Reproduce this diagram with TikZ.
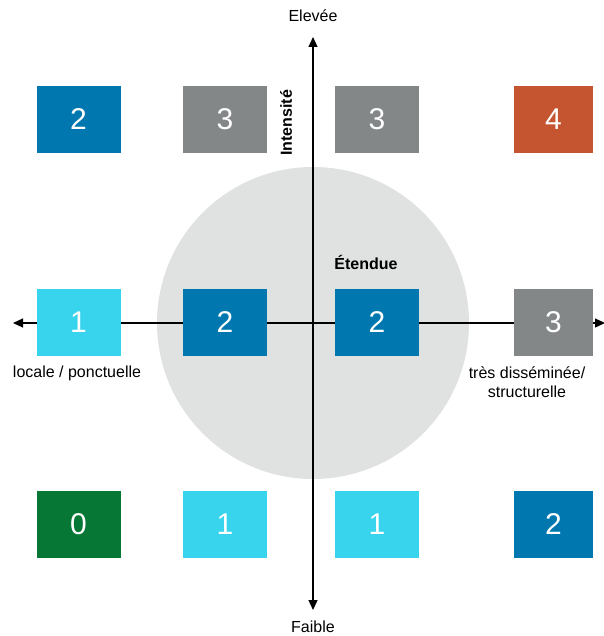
\documentclass[tikz,border=0pt]{standalone}
\usepackage{fontspec}
\setmainfont{Liberation Sans}
\usepackage{tikz}
\usetikzlibrary{arrows.meta,positioning}

\definecolor{deepblue}{HTML}{0077AE}
\definecolor{skyblue}{HTML}{38D4EE}
\definecolor{slategray}{HTML}{848788}
\definecolor{rust}{HTML}{C55530}
\definecolor{forest}{HTML}{067735}
\definecolor{zone}{HTML}{E0E1E1}

\begin{document}
\begin{tikzpicture}[x=1pt,y=-1pt,>={Triangle[length=10pt,width=9pt]},
                    axis/.style={->,line width=1.2pt,black},
                    cell/.style={minimum width=84pt,minimum height=67pt,inner sep=0pt,
                                 text=white,font=\fontsize{30}{30}\selectfont},
                    label/.style={font=\fontsize{16}{19}\selectfont,align=center,inner sep=0pt},
                    title/.style={font=\fontsize{16}{19}\selectfont\bfseries,inner sep=0pt}]
  \useasboundingbox (0,0) rectangle (603,636);

  \fill[zone] (313,323) circle (156pt);

  \coordinate (origin) at (313,323);
  \coordinate (top) at (313,37);
  \coordinate (bottom) at (313,610);
  \coordinate (left) at (13,323);
  \coordinate (right) at (605,323);

  \draw[axis] (origin) -- (top);
  \draw[axis] (origin) -- (bottom);
  \draw[axis] (origin) -- (left);
  \draw[axis] (origin) -- (right);

  % top row
  \node[cell,fill=deepblue] (a1) at (78.5,119.5) {2};
  \node[cell,fill=slategray] (a2) at (225,119.5) {3};
  \node[cell,fill=slategray] (a3) at (377,119.5) {3};
  \node[cell,fill=rust,minimum width=79pt] (a4) at (553.5,119.5) {4};

  % middle row
  \node[cell,fill=skyblue] (b1) at (78.5,322.5) {1};
  \node[cell,fill=deepblue] (b2) at (225,322.5) {2};
  \node[cell,fill=deepblue] (b3) at (377,322.5) {2};
  \node[cell,fill=slategray,minimum width=79pt] (b4) at (553.5,322.5) {3};

  % bottom row
  \node[cell,fill=forest] (c1) at (78.5,524.5) {0};
  \node[cell,fill=skyblue] (c2) at (225,524.5) {1};
  \node[cell,fill=skyblue] (c3) at (377,524.5) {1};
  \node[cell,fill=deepblue,minimum width=79pt] (c4) at (553.5,524.5) {2};

  \node[label] (high) at (313,16) {Elevée};
  \node[label] (low) at (313,627) {Faible};
  \node[title,rotate=90] (intensity) at (286,123) {Intensité};
  \node[title] (extent) at (366,262) {Étendue};
  \node[label] (local) at (77,373) {locale / ponctuelle};
  \node[label] (spread) at (527,382) {très disséminée/\\structurelle};
\end{tikzpicture}
\end{document}
